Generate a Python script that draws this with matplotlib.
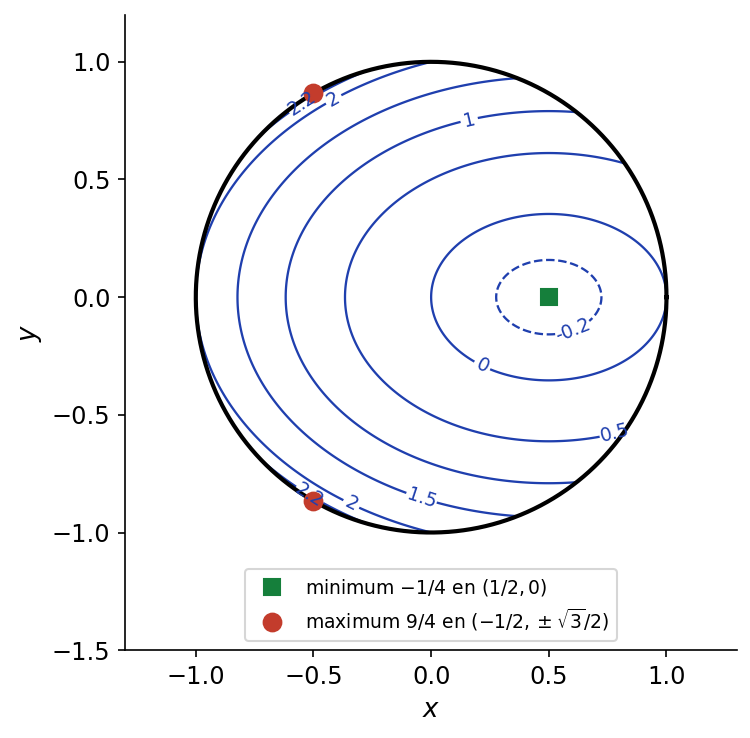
import numpy as np
import matplotlib
matplotlib.use("Agg")
import matplotlib.pyplot as plt
import matplotlib.patches as patches

# f(x, y) = x^2 + 2y^2 - x on the unit disk
levels = [-0.2, 0, 0.5, 1, 1.5, 2, 2.2]
label_pos = [(-0.56, 0.84), (-0.42, 0.85), (0.16, 0.76), (0.6, -0.13),
             (0.22, -0.285), (0.78, -0.57), (-0.04, -0.85), (-0.34, -0.88),
             (-0.51, -0.83)]
x_min, y_min = [0.5], [0.0]
x_max, y_max = [-0.5, -0.5], [np.sqrt(3) / 2, -np.sqrt(3) / 2]

blue = "#1f3fae"

fig = plt.figure(figsize=(5, 4.92), dpi=150)
ax = fig.add_axes([0.1667, 0.119, 0.8163, 0.861])

t = np.linspace(-1.05, 1.05, 601)
X, Y = np.meshgrid(t, t)
Z = X**2 + 2 * Y**2 - X

cs = ax.contour(X, Y, Z, levels=levels, colors=blue, linewidths=1.1)
disk = patches.Circle((0, 0), 1, transform=ax.transData, facecolor="none")
cs.set_clip_path(disk)
ax.clabel(cs, fmt="%g", fontsize=9, inline=True, manual=label_pos)

th = np.linspace(0, 2 * np.pi, 400)
ax.plot(np.cos(th), np.sin(th), color="black", lw=2)

ax.plot(x_min, y_min, "s", color="#157f3b", ms=8, ls="none",
        label=r"minimum $-1/4$ en $(1/2, 0)$")
ax.plot(x_max, y_max, "o", color="#c33c2c", ms=8.5, ls="none",
        label=r"maximum $9/4$ en $(-1/2, \pm\sqrt{3}/2)$")

ax.set_xlim(-1.3, 1.3)
ax.set_ylim(-1.5, 1.2)
ax.set_aspect("equal")
ax.set_xticks([-1.0, -0.5, 0.0, 0.5, 1.0])
ax.set_yticks([-1.5, -1.0, -0.5, 0.0, 0.5, 1.0])
ax.tick_params(labelsize=11.5)
ax.set_xlabel("$x$", fontsize=12.5)
ax.set_ylabel("$y$", fontsize=12.5)
ax.spines["top"].set_visible(False)
ax.spines["right"].set_visible(False)
ax.legend(loc="lower center", fontsize=9)

fig.savefig("out.png", dpi=150)
